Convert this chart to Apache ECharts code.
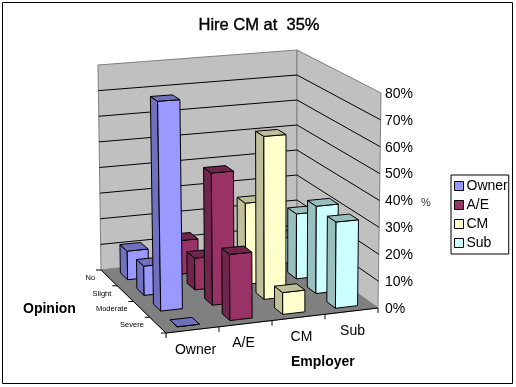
<!DOCTYPE html>
<html>
<head>
<meta charset="utf-8">
<style>
  html, body { margin: 0; padding: 0; background: #fff; }
  #chart { width: 516px; height: 387px; }
</style>
<script src="https://cdn.jsdelivr.net/npm/echarts@6/dist/echarts.min.js"></script>
</head>
<body>
<div id="chart"></div>
<script>
///////////////////////////////////////////////////
// Data
///////////////////////////////////////////////////
var employers = ['Owner', 'A/E', 'CM', 'Sub'];
var opinions = ['No', 'Slight', 'Moderate', 'Severe'];
var yTicks = [0, 10, 20, 30, 40, 50, 60, 70, 80];
// one value per opinion, back row first
var ownerValues = [11, 11, 77, 0];
var aeValues = [13, 12, 49, 24];
var cmValues = [5, 31, 61, 8];
var subValues = [10, 25, 33, 32];

var seriesNames = employers;
var seriesValues = [ownerValues, aeValues, cmValues, subValues];
var faceColors = ['#9999FF', '#993366', '#FFFFCC', '#CCFFFF'];
var sideColors = ['#7070BF', '#70264C', '#BFBF99', '#99BFBF'];

///////////////////////////////////////////////////
// Box of the 3D plot: floor and top corners on screen
///////////////////////////////////////////////////
var FONT = '"Liberation Sans", Arial, sans-serif';
var GRID = { left: 166, top: 94, width: 214, height: 215 };
var floorBox = { fl: [166, 333], fr: [378, 308], bl: [101, 270], br: [297, 250] };
var topBox = { fl: [162, 108], fr: [381, 93], bl: [98, 65], br: [297, 50] };
var labelNudge = [3, -2, 3, 1];

function bilinear(box, u, v, i) {
  var front = box.fl[i] + (box.fr[i] - box.fl[i]) * u;
  var back = box.bl[i] + (box.br[i] - box.bl[i]) * u;
  return front + (back - front) * v;
}
// u across the employers, v from front to back, f height share of the axis
function project(u, v, f) {
  return [0, 1].map(function (i) {
    var low = bilinear(floorBox, u, v, i);
    return low + (bilinear(topBox, u, v, i) - low) * f;
  });
}
function toAxes(api, x, value) {
  var p = api.coord([x, value]);
  return [(p[0] - GRID.left) / GRID.width, (GRID.top + GRID.height - p[1]) / GRID.height];
}
function poly(points, fill, stroke, z2) {
  return {
    type: 'polygon',
    z2: z2,
    shape: { points: points },
    style: { fill: fill, stroke: stroke, lineWidth: 1 },
    silent: true,
  };
}
function line(a, b, stroke, z2) {
  return {
    type: 'line',
    z2: z2,
    shape: { x1: a[0], y1: a[1], x2: b[0], y2: b[1] },
    style: { stroke: stroke, lineWidth: 1 },
    silent: true,
  };
}
function label(text, x, y, size, align) {
  return {
    type: 'text',
    z2: 5,
    style: {
      x: x, y: y, text: text, fill: '#000',
      fontFamily: FONT, fontSize: size,
      align: align, verticalAlign: 'middle',
    },
    silent: true,
  };
}

///////////////////////////////////////////////////
// Walls, floor, gridlines, skewed axis labels
///////////////////////////////////////////////////
function renderFrame(params, api) {
  var ch = [];
  ch.push(poly([project(0, 1, 0), project(0, 1, 1), project(1, 1, 1), project(1, 1, 0)], '#C0C0C0', '#808080', 1));
  ch.push(poly([project(1, 1, 0), project(1, 1, 1), project(1, 0, 1), project(1, 0, 0)], '#C0C0C0', '#808080', 1));
  ch.push(poly([project(0, 0, 0), project(1, 0, 0), project(1, 1, 0), project(0, 1, 0)], '#808080', '#808080', 2));
  yTicks.forEach(function (t) {
    var f = toAxes(api, 0, t)[1];
    if (t === 0 || t === 80) return;
    ch.push(line(project(0, 1, f), project(1, 1, f), '#000', 3));
    ch.push(line(project(1, 1, f), project(1, 0, f), '#000', 3));
  });
  // floor edges and their ticks
  ch.push(line(project(0, 0, 0), project(1, 0, 0), '#000', 4));
  ch.push(line(project(0, 0, 0), project(0, 1, 0), '#000', 4));
  for (var i = 0; i <= employers.length; i++) {
    var a = project(i / employers.length, 0, 0);
    ch.push(line(a, [a[0], a[1] + 5], '#000', 4));
  }
  for (var j = 0; j <= opinions.length; j++) {
    var b = project(0, j / opinions.length, 0);
    ch.push(line(b, [b[0] - 5, b[1]], '#000', 4));
  }
  employers.forEach(function (name, i) {
    var p = project((i + 0.5) / employers.length, 0, 0);
    ch.push(label(name, p[0] + labelNudge[i], p[1] + 20, 14, 'center'));
  });
  opinions.forEach(function (name, r) {
    var p = project(0, (opinions.length - r - 0.5) / opinions.length, 0);
    ch.push(label(name, p[0] - 14, p[1], 7.5, 'right'));
  });
  return { type: 'group', children: ch };
}

///////////////////////////////////////////////////
// One cuboid: left side, top, front face
///////////////////////////////////////////////////
var BAR_LEFT = 0.05;
var BAR_RIGHT = 0.055;
var BAR_DV = 0.055;
function renderBar(params, api) {
  var col = params.seriesIndex - 1;
  var r = api.value(2);
  var top = toAxes(api, api.value(0), api.value(1));
  var u = (api.value(0) + 0.5) / 4;
  var v = (opinions.length - r - 0.5) / opinions.length;
  var f = top[1];
  var u0 = u - BAR_LEFT, u1 = u + BAR_RIGHT, v0 = v - BAR_DV, v1 = v + BAR_DV;
  var z = 10 + r * 10;
  var side = sideColors[col];
  return {
    type: 'group',
    children: [
      poly([project(u0, v0, 0), project(u0, v1, 0), project(u0, v1, f), project(u0, v0, f)], side, '#000', z),
      poly([project(u1, v0, 0), project(u0, v0, 0), project(u0, v0, f), project(u1, v0, f)], faceColors[col], '#000', z + 1),
      poly([project(u0, v0, f), project(u0, v1, f), project(u1, v1, f), project(u1, v0, f)], side, '#000', z + 2),
    ],
  };
}

var barSeries = seriesNames.map(function (name, col) {
  return {
    name: name,
    type: 'custom',
    renderItem: renderBar,
    animation: false,
    encode: { x: 0, y: 1 },
    itemStyle: { color: faceColors[col] },
    data: seriesValues[col].map(function (value, r) {
      return [col, value, r];
    }),
  };
});

var option = {
  animation: false,
  backgroundColor: '#fff',
  title: {
    text: 'Hire CM at  35%',
    left: 254, top: 12, textAlign: 'center',
    textStyle: { fontFamily: FONT, fontSize: 16.5, fontWeight: 'normal', color: '#000', textBorderColor: '#000', textBorderWidth: 0.4 },
  },
  grid: { left: GRID.left, top: GRID.top, width: GRID.width, height: GRID.height },
  xAxis: { type: 'value', min: 0, max: 4, show: false },
  yAxis: {
    type: 'value',
    position: 'right',
    min: 0, max: 80, interval: 10,
    splitLine: { show: false },
    axisLine: { show: true, lineStyle: { color: '#000' } },
    axisTick: { show: true, length: 5, lineStyle: { color: '#000' } },
    axisLabel: { formatter: '{value}%', color: '#000', fontFamily: FONT, fontSize: 14, margin: 5 },
  },
  legend: {
    orient: 'vertical',
    left: 451, top: 175,
    data: seriesNames,
    icon: 'rect',
    itemWidth: 9, itemHeight: 9, itemGap: 5,
    padding: [4, 1, 4, 3],
    backgroundColor: '#fff',
    borderColor: '#000', borderWidth: 1,
    itemStyle: { borderColor: '#000', borderWidth: 1 },
    textStyle: { fontFamily: FONT, fontSize: 14, color: '#000', padding: [0, 0, 0, -2] },
    selectedMode: false,
  },
  graphic: [
    { type: 'rect', z: -1, shape: { x: 2.5, y: 2.5, width: 510, height: 381 }, style: { fill: '#fff', stroke: '#000', lineWidth: 1 } },
    { type: 'text', left: 23, top: 302, style: { text: 'Opinion', fontFamily: FONT, fontSize: 14, fontWeight: 'bold', fill: '#000' } },
    { type: 'text', left: 291, top: 355, style: { text: 'Employer', fontFamily: FONT, fontSize: 14, fontWeight: 'bold', fill: '#000' } },
    { type: 'text', left: 421, top: 197, style: { text: '%', fontFamily: FONT, fontSize: 11, fill: '#333' } },
  ],
  series: [
    { name: 'frame', type: 'custom', renderItem: renderFrame, animation: false, encode: { x: 0, y: 1 }, data: [[0, 0]], silent: true },
  ].concat(barSeries),
};

var myChart = echarts.init(document.getElementById('chart'), null, { renderer: 'canvas' });
myChart.setOption(option);
</script>
</body>
</html>
